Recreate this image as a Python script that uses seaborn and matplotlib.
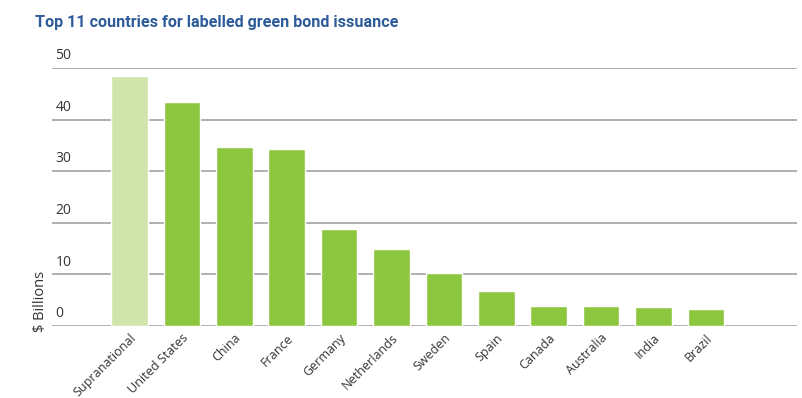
import matplotlib
matplotlib.use("Agg")
import matplotlib.pyplot as plt
import seaborn as sns
import pandas as pd

countries = ["Supranational", "United States", "China", "France", "Germany",
             "Netherlands", "Sweden", "Spain", "Canada", "Australia", "India", "Brazil"]
values = [48.4, 43.4, 34.7, 34.3, 18.8, 14.9, 10.3, 6.8, 3.9, 3.9, 3.7, 3.3]
yticks = [0, 10, 20, 30, 40, 50]
title = "Top 11 countries for labelled green bond issuance"

light_green = "#cfe5ac"
green = "#8dc63f"
colors = [light_green] + [green] * (len(countries) - 1)

df = pd.DataFrame({"country": countries, "value": values})

sns.set_theme(style="white")
plt.rcParams["font.family"] = ["Open Sans", "DejaVu Sans"]

fig = plt.figure(figsize=(8.03, 3.98), dpi=100)
ax = fig.add_axes([52 / 803, 1 - 326 / 398, (797 - 52) / 803, (326 - 68) / 398])

sns.barplot(data=df, x="country", y="value", hue="country", palette=colors,
            legend=False, width=0.7, saturation=1, ax=ax)
for p in ax.patches:
    p.set_zorder(5)

ax.set_ylim(0, 50)
ax.set_xlim(-1.48, 12.74)
ax.set_yticks(yticks)
ax.set_yticklabels([])
ax.tick_params(axis="y", length=0)
ax.tick_params(axis="x", length=0, pad=4)
for t in yticks:
    ax.axhline(t, color="#9a9a9a", lw=1.1, zorder=1)
    ax.annotate(str(t), xy=(0, t), xycoords=ax.get_yaxis_transform(),
                xytext=(2.5, 3.5), textcoords="offset points",
                ha="left", va="bottom", fontsize=10, color="#333333")

for s in ax.spines.values():
    s.set_visible(False)

ax.set_xlabel("")
ax.set_ylabel("")
ax.set_xticks(range(len(countries)))
ax.set_xticklabels(countries, rotation=45, ha="right", va="top",
                   rotation_mode="anchor", fontsize=9, color="#333333")

ax.text(-0.016, -0.025, r"\$ Billions", transform=ax.transAxes, rotation=90,
        ha="center", va="bottom", fontsize=10.5, color="#333333")

fig.text(35 / 803, 1 - 22 / 398, title, fontsize=11.6, fontweight="bold",
         color="#2e5b9a", ha="left", va="center", family=["Roboto", "DejaVu Sans"])

fig.savefig("out.png", dpi=100)
